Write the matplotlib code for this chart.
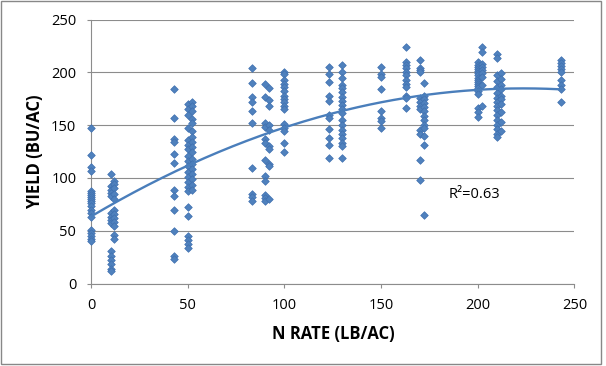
import numpy as np
import matplotlib.pyplot as plt
from matplotlib.patches import Rectangle

y_0 = [147, 122, 110, 107, 88, 86, 84, 82, 80, 78, 76, 73, 70, 67, 63, 51, 48, 45, 42, 40]
y_10 = [104, 92, 89, 86, 83, 67, 63, 60, 57, 31, 26, 22, 18, 14, 12]
y_12 = [97, 94, 90, 85, 80, 70, 66, 62, 58, 54, 46, 42]
y_43 = [184, 157, 137, 134, 123, 114, 89, 83, 70, 50, 26, 23]
y_50 = [170, 165, 160, 147, 136, 131, 127, 121, 116, 111, 106, 101, 96, 91, 88, 72, 64, 45, 41, 37, 34]
y_52 = [172, 168, 163, 156, 152, 144, 139, 134, 129, 125, 118, 113, 108, 104, 99, 93, 89]
y_83 = [204, 190, 177, 172, 163, 152, 109, 85, 82, 78]
y_90 = [189, 177, 152, 148, 137, 133, 117, 102, 97, 84, 81, 78]
y_92 = [185, 174, 168, 150, 145, 130, 127, 113, 111, 80]
y_100 = [200, 198, 193, 189, 186, 182, 178, 175, 172, 168, 165, 151, 147, 144, 133, 125]
y_123 = [205, 198, 191, 178, 173, 160, 157, 146, 138, 131, 119]
y_130 = [207, 200, 195, 188, 185, 181, 177, 173, 169, 165, 161, 155, 150, 145, 142, 138, 133, 130, 119]
y_150 = [205, 198, 196, 184, 163, 157, 154, 147]
y_163 = [224, 210, 207, 204, 200, 197, 193, 189, 186, 178, 176, 166]
y_170 = [212, 204, 202, 200, 176, 172, 168, 165, 145, 142, 117, 98]
y_172 = [190, 178, 175, 171, 167, 163, 159, 155, 150, 147, 140, 131, 65]
y_200 = [210, 207, 205, 203, 201, 199, 197, 195, 193, 191, 189, 187, 185, 182, 179, 166, 162, 158]
y_202 = [224, 219, 208, 205, 202, 199, 196, 188, 168]
y_210 = [217, 214, 197, 192, 186, 180, 176, 172, 168, 164, 160, 155, 150, 146, 142, 139]
y_212 = [199, 194, 188, 184, 178, 175, 170, 162, 153, 144]
y_243 = [212, 209, 206, 203, 200, 193, 188, 184, 172]

n_rates = [0, 10, 12, 43, 50, 52, 83, 90, 92, 100, 123, 130, 150, 163, 170, 172, 200, 202, 210, 212, 243]
groups = [y_0, y_10, y_12, y_43, y_50, y_52, y_83, y_90, y_92, y_100, y_123, y_130,
          y_150, y_163, y_170, y_172, y_200, y_202, y_210, y_212, y_243]

ticks = [0, 50, 100, 150, 200, 250]
r2_label = 'R²=0.63'

x = np.concatenate([[r] * len(g) for r, g in zip(n_rates, groups)]).astype(float)
y = np.concatenate(groups).astype(float)

plt.rcParams['font.family'] = ['Open Sans', 'DejaVu Sans']

fig = plt.figure(figsize=(6.06, 3.66), dpi=100)
ax = fig.add_axes([0.1505, 0.2254, 0.7974, 0.7213])

grey = '#8c8c8c'
blue = '#4F81BD'

ax.scatter(x, y, marker='D', s=15, facecolor=blue, edgecolor='#3f70b0',
           linewidths=0.5, zorder=3, clip_on=False)

# quadratic trendline
coef = np.polyfit(x, y, 2)
xs = np.linspace(0, max(n_rates), 200)
ax.plot(xs, np.polyval(coef, xs), color='#4A7EBB', lw=1.7, zorder=4)

ax.set_xlim(0, 250)
ax.set_ylim(0, 250)
ax.set_xticks(ticks)
ax.set_yticks(ticks)
ax.yaxis.grid(True, color=grey, lw=0.8)
ax.set_axisbelow(True)
for s in ['top', 'right']:
    ax.spines[s].set_visible(False)
for s in ['left', 'bottom']:
    ax.spines[s].set_color(grey)
    ax.spines[s].set_linewidth(0.8)
ax.tick_params(length=3.2, width=0.8, color=grey, labelsize=10.5, labelcolor='black')
ax.tick_params(axis='x', pad=7.5)
ax.tick_params(axis='y', pad=7.5)

ax.set_xlabel('N RATE (LB/AC)', fontsize=12, fontweight='bold')
ax.set_ylabel('YIELD (BU/AC)', fontsize=12, fontweight='bold')
ax.xaxis.set_label_coords(0.5, -0.19)
ax.xaxis.label.set_va('center')
ax.yaxis.set_label_coords(-0.117, 0.5)
ax.yaxis.label.set_va('center')

ax.text(185, 84, r2_label, fontsize=10.5, ha='left', va='center')

# chart border
fig.patches.append(Rectangle((1 / 606, 2 / 366), 600 / 606, 363 / 366,
                             transform=fig.transFigure, fill=False,
                             edgecolor='#888888', lw=1))

fig.savefig('out.png', dpi=100)
